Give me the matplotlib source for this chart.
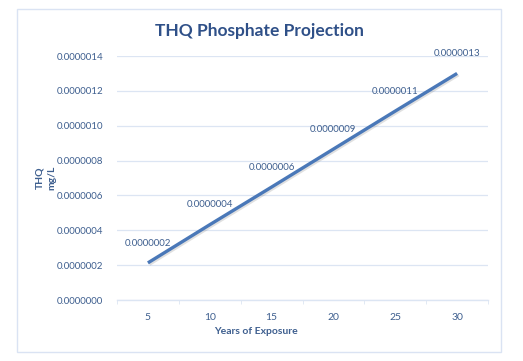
import matplotlib
matplotlib.use("Agg")
import matplotlib.pyplot as plt
import matplotlib.patheffects as pe
from matplotlib.patches import Rectangle
from matplotlib.ticker import FuncFormatter

# data
years = ["5", "10", "15", "20", "25", "30"]
thq = [0.000000213, 0.000000432, 0.000000648, 0.000000866, 0.000001084, 0.000001300]
point_labels = ["0.0000002", "0.0000004", "0.0000006", "0.0000009", "0.0000011", "0.0000013"]

plt.rcParams['font.family'] = ['Lato', 'DejaVu Sans']
text_col = '#3E5F8F'
grid_col = '#DCE5F3'

fig = plt.figure(figsize=(5.23, 3.61), dpi=100)
fig.patch.set_facecolor('white')

# chart border
fig.patches.append(Rectangle((17/523, 1 - 352/361), 484/523, 343/361,
                             transform=fig.transFigure, fill=False,
                             edgecolor='#DAE3F3', linewidth=1))

ax = fig.add_axes([117/523, 61/361, 371/523, 244/361])
x = list(range(len(years)))
ax.plot(x, thq, color='#4A78B8', linewidth=2.4, solid_capstyle='butt',
        path_effects=[pe.SimpleLineShadow(offset=(1, -1), alpha=0.2, shadow_color='#666666'),
                      pe.Normal()])

for xi, yi, lab in zip(x, thq, point_labels):
    ax.annotate(lab, (xi, yi), xytext=(0, 11), textcoords='offset points',
                ha='center', va='bottom', fontsize=7, color=text_col)

ax.set_xlim(-0.5, len(years) - 0.5)
ax.set_ylim(0, 0.0000014)
ax.set_yticks([i * 0.0000002 for i in range(8)])
ax.yaxis.set_major_formatter(FuncFormatter(lambda v, p: f"{v:.7f}"))
ax.set_xticks(x)
ax.set_xticklabels(years)
ax.set_xticks([i - 0.5 for i in range(len(years) + 1)], minor=True)

ax.grid(axis='y', color=grid_col, linewidth=0.9)
ax.set_axisbelow(True)
for s in ['top', 'right', 'left']:
    ax.spines[s].set_visible(False)
ax.spines['bottom'].set_color(grid_col)
ax.spines['bottom'].set_linewidth(1)

ax.tick_params(axis='y', length=0, pad=10, labelsize=7, labelcolor=text_col)
ax.tick_params(axis='x', which='major', length=0, pad=9, labelsize=7.5, labelcolor=text_col)
ax.tick_params(axis='x', which='minor', length=3, color=grid_col)

fig.text(259/523, 1 - 31/361, "THQ Phosphate Projection", ha='center', va='center',
         fontsize=12.5, fontweight='bold', color='#2F5088')
fig.text(256/523, 1 - 331/361, "Years of Exposure", ha='center', va='center',
         fontsize=7.5, fontweight='bold', color=text_col)
fig.text(46/523, 1 - 178/361, "THQ\nmg/L", ha='center', va='center', rotation=90,
         fontsize=7.5, fontweight='bold', color=text_col, linespacing=1.45)

fig.savefig("out.png", dpi=100)
